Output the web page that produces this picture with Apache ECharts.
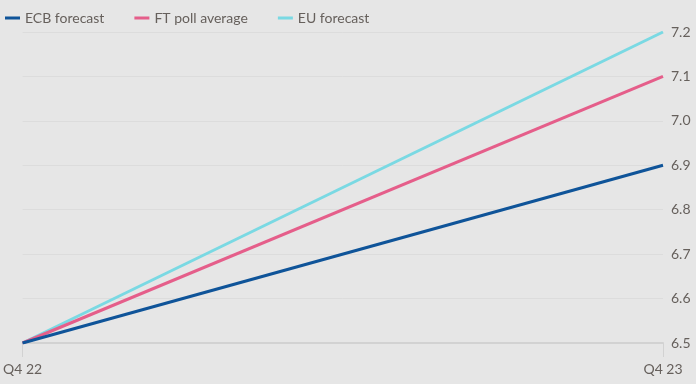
<!DOCTYPE html>
<html><head><meta charset="utf-8">
<script src="https://cdn.jsdelivr.net/npm/echarts@6/dist/echarts.min.js"></script>
<style>html,body{margin:0;padding:0;background:#e6e6e6;}#c{width:696px;height:384px;}</style>
</head><body><div id="c"></div>
<script>
const categories = ['Q4 22', 'Q4 23'];
const ecbForecast = [6.5, 6.9];
const ftPoll = [6.5, 7.1];
const euForecast = [6.5, 7.2];
const seriesNames = ['ECB forecast', 'FT poll average', 'EU forecast'];
const colors = ['#0f5499', '#e55e8a', '#7ad9e3'];
const font = 'Lato, "Noto Sans", sans-serif';
const chart = echarts.init(document.getElementById('c'));
chart.setOption({
  backgroundColor: '#e6e6e6',
  animation: false,
  color: colors,
  legend: {
    left: 0, top: 6, itemWidth: 15, itemHeight: 3, itemGap: 30,
    icon: 'rect',
    textStyle: { color: '#66605c', fontSize: 14, fontFamily: font },
    data: seriesNames
  },
  grid: { left: 22, right: 33, top: 32, bottom: 41 },
  xAxis: {
    type: 'category', data: categories, boundaryGap: false,
    axisLine: { lineStyle: { color: '#d2d2d2', width: 2 } },
    axisTick: { show: true, length: 14, lineStyle: { color: '#d2d2d2' } },
    axisLabel: { color: '#66605c', fontSize: 14, fontFamily: font, margin: 19 },
    splitLine: { show: false }
  },
  yAxis: {
    type: 'value', position: 'right', min: 6.5, max: 7.2, interval: 0.1,
    axisLine: { show: false }, axisTick: { show: false },
    axisLabel: { color: '#66605c', fontSize: 14, fontFamily: font, margin: 8,
      formatter: v => v.toFixed(1) },
    splitLine: { lineStyle: { color: '#dcdcdc', width: 1 } }
  },
  series: [
    { name: seriesNames[0], type: 'line', data: ecbForecast, symbol: 'none', lineStyle: { width: 3 }, z: 4 },
    { name: seriesNames[1], type: 'line', data: ftPoll, symbol: 'none', lineStyle: { width: 3 }, z: 3 },
    { name: seriesNames[2], type: 'line', data: euForecast, symbol: 'none', lineStyle: { width: 3 }, z: 2 }
  ]
});
</script></body></html>
